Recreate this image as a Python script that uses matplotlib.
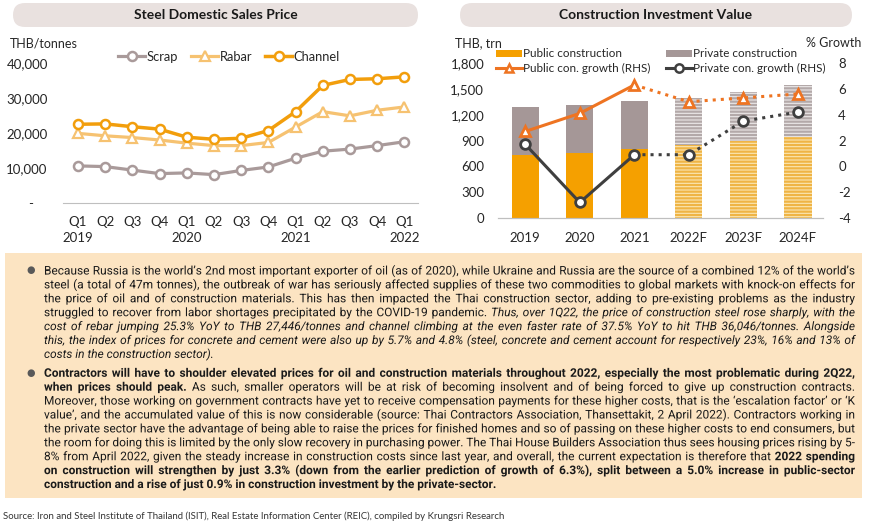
import matplotlib
matplotlib.use('Agg')
import matplotlib.pyplot as plt
import matplotlib.patheffects as pe
from matplotlib.patches import FancyBboxPatch, Rectangle, Patch
from matplotlib.lines import Line2D
from matplotlib.ticker import FixedLocator, FuncFormatter
from matplotlib.textpath import TextPath
from matplotlib.font_manager import FontProperties

# ---------------- data ----------------
quarters = ['Q1', 'Q2', 'Q3', 'Q4', 'Q1', 'Q2', 'Q3', 'Q4', 'Q1', 'Q2', 'Q3', 'Q4', 'Q1']
quarter_years = ['2019', '', '', '', '2020', '', '', '', '2021', '', '', '', '2022']
scrap = [10600, 10400, 9400, 8400, 8600, 8100, 9300, 10300, 12800, 14800, 15400, 16400, 17500]
rabar = [19900, 19200, 18700, 18000, 17100, 16400, 16400, 17300, 21700, 26100, 24900, 26500, 27446]
channel = [22500, 22600, 21800, 21100, 18800, 18200, 18500, 20700, 26100, 33600, 35300, 35500, 36046]
steel_yticks = [0, 10000, 20000, 30000, 40000]

inv_years = ['2019', '2020', '2021', '2022F', '2023F', '2024F']
public_con = [728, 755, 805, 844, 890, 937]
private_con = [561, 553, 550, 549, 570, 611]
public_growth = [2.7, 4.1, 6.3, 5.0, 5.3, 5.6]
private_growth = [1.7, -2.8, 0.9, 0.9, 3.5, 4.2]
is_forecast = [False, False, False, True, True, True]
inv_yticks = [0, 300, 600, 900, 1200, 1500, 1800]
growth_yticks = [-4, -2, 0, 2, 4, 6, 8]

title_left = 'Steel Domestic Sales Price'
title_right = 'Construction Investment Value'
source_text = ('Source: Iron and Steel Institute of Thailand (ISIT), Real Estate Information Center (REIC), '
               'compiled by Krungsri Research')

R, B, I, BI = 'r', 'b', 'i', 'bi'
para1 = [
    [(R, 'Because Russia is the world\u2019s 2nd most important exporter of oil (as of 2020), while Ukraine and Russia are the source of a combined 12% of the world\u2019s')],
    [(R, 'steel (a total of 47m tonnes), the outbreak of war has seriously affected supplies of these two commodities to global markets with knock-on effects for')],
    [(R, 'the price of oil and of construction materials. This has then impacted the Thai construction sector, adding to pre-existing problems as the industry')],
    [(R, 'struggled to recover from labor shortages precipitated by the COVID-19 pandemic.'), (I, 'Thus, over 1Q22, the price of construction steel rose sharply, with the')],
    [(I, 'cost of rebar jumping 25.3% YoY to THB 27,446/tonnes and channel climbing at the even faster rate of 37.5% YoY to hit THB 36,046/tonnes. Alongside')],
    [(I, 'this, the index of prices for concrete and cement were also up by 5.7% and 4.8% (steel, concrete and cement account for respectively 23%, 16% and 13% of')],
    [(I, 'costs in the construction sector).')],
]
para2 = [
    [(B, 'Contractors will have to shoulder elevated prices for oil and construction materials throughout 2022, especially the most problematic during 2Q22,')],
    [(B, 'when prices should peak.'), (R, 'As such, smaller operators will be at risk of becoming insolvent and of being forced to give up construction contracts.')],
    [(R, 'Moreover, those working on government contracts have yet to receive compensation payments for these higher costs, that is the \u2018escalation factor\u2019 or \u2018K')],
    [(R, 'value\u2019, and the accumulated value of this is now considerable (source: Thai Contractors Association, Thansettakit, 2 April 2022). Contractors working in')],
    [(R, 'the private sector have the advantage of being able to raise the prices for finished homes and so of passing on these higher costs to end consumers, but')],
    [(R, 'the room for doing this is limited by the only slow recovery in purchasing power. The Thai House Builders Association thus sees housing prices rising by 5-')],
    [(R, '8% from April 2022, given the steady increase in construction costs since last year, and overall, the current expectation is therefore that'), (B, '2022 spending')],
    [(B, 'on construction will strengthen by just 3.3% (down from the earlier prediction of growth of 6.3%), split between a 5.0% increase in public-sector')],
    [(B, 'construction and a rise of just 0.9% in construction investment by the private-sector.')],
]

# ---------------- style ----------------
plt.rcParams['font.family'] = ['Lato', 'DejaVu Sans']
plt.rcParams['hatch.linewidth'] = 1.6
PARA_FONT = ['Roboto', 'DejaVu Sans']
W, H = 870, 527
fig = plt.figure(figsize=(W / 100, H / 100), dpi=100)
fig.patch.set_facecolor('white')

TXT = '#262626'
C_CH = '#F29E0C'
C_RB = '#F6C271'
C_SC = '#A99A9A'
C_PUB = '#F5A000'
C_PRV = '#A59797'
C_PUBG = '#EE7422'
C_PRVG = '#3F3F3F'
AXIS = '#BFBFBF'


def fx(px):
    return px / W


def fy(py):
    return 1 - py / H


def pill(x0, x1, y0, y1, text):
    p = FancyBboxPatch((x0 / 100, (H - y1) / 100), (x1 - x0) / 100, (y1 - y0) / 100,
                       boxstyle='round,pad=0,rounding_size=0.12', transform=fig.dpi_scale_trans,
                       facecolor='#E9E1DF', edgecolor='none', zorder=0)
    fig.patches.append(p)
    fig.text(fx((x0 + x1) / 2), fy((y0 + y1) / 2), text, ha='center', va='center',
             fontsize=10, fontweight='bold', color='#1a1a1a')


pill(13, 418, 3, 27, title_left)
pill(460, 852, 3, 27, title_right)

# ---------------- left chart ----------------
ax1 = fig.add_axes([fx(63), fy(203), fx(418) - fx(63), fy(63) - fy(203)])
xs = list(range(len(quarters)))
ax1.plot(xs, scrap, color=C_SC, lw=2.3, marker='o', ms=6.5, mfc='white', mew=1.8, label='Scrap')
ax1.plot(xs, rabar, color=C_RB, lw=2.3, marker='^', ms=7, mfc='white', mew=1.6, label='Rabar')
ax1.plot(xs, channel, color=C_CH, lw=2.5, marker='o', ms=6.5, mfc='white', mew=1.8, label='Channel')
ax1.set_xlim(-0.55, 12.5)
ax1.set_ylim(0, 40000)
ax1.yaxis.set_major_locator(FixedLocator(steel_yticks))
ax1.yaxis.set_major_formatter(FuncFormatter(lambda v, p: '-    ' if v == 0 else f'{int(v):,}'))
ax1.set_xticks(xs)
ax1.set_xticklabels([q if not y else f'{q}\n{y}' for q, y in zip(quarters, quarter_years)])
for lab in ax1.get_xticklabels():
    lab.set_linespacing(1.45)
for s in ['top', 'right', 'left']:
    ax1.spines[s].set_visible(False)
ax1.spines['bottom'].set_color(AXIS)
ax1.tick_params(axis='both', length=0, labelsize=9.5, colors=TXT)
ax1.tick_params(axis='y', pad=11)
ax1.tick_params(axis='x', pad=9)
ax1.patch.set_alpha(0)
fig.text(fx(10), fy(43), 'THB/tonnes', fontsize=9, color=TXT, ha='left', va='center')
ax1.legend(loc='center', bbox_to_anchor=(fx(229), fy(57)), bbox_transform=fig.transFigure,
           ncol=3, frameon=False, fontsize=9.3, handlelength=2.1, handletextpad=0.12,
           columnspacing=1.0, labelcolor=TXT)

# ---------------- right chart ----------------
ax2 = fig.add_axes([fx(498), fy(218), fx(823) - fx(498), fy(63) - fy(218)])
ax2r = ax2.twinx()
ix = list(range(len(inv_years)))
bw = 0.5
for i in ix:
    if is_forecast[i]:
        ax2.bar(i, public_con[i], bw, color='#FBE6B4', edgecolor='#EFB445', hatch='-----', lw=0)
        ax2.bar(i, private_con[i], bw, bottom=public_con[i], color='#ECE8E8', edgecolor='#B3A9A9',
                hatch='-----', lw=0)
    else:
        ax2.bar(i, public_con[i], bw, color=C_PUB, lw=0)
        ax2.bar(i, private_con[i], bw, bottom=public_con[i], color=C_PRV, lw=0)
ax2.set_xlim(-0.5, 5.46)
ax2.set_ylim(0, 1800)
ax2.yaxis.set_major_locator(FixedLocator(inv_yticks))
ax2.yaxis.set_major_formatter(FuncFormatter(lambda v, p: f'{int(v):,}'))
ax2.set_xticks(ix)
ax2.set_xticklabels(inv_years)
ax2r.set_ylim(-4, 8)
ax2r.yaxis.set_major_locator(FixedLocator(growth_yticks))
ax2r.yaxis.set_major_formatter(FuncFormatter(lambda v, p: f'{int(v)}'))

na = sum(1 for f in is_forecast if not f)
ax2r.plot(ix[:na], public_growth[:na], color=C_PUBG, lw=2.2, zorder=3)
ax2r.plot(ix[na - 1:], public_growth[na - 1:], color=C_PUBG, lw=2.2, ls=':', zorder=3)
ax2r.plot(ix, public_growth, ls='none', marker='^', ms=7, mfc='white', mec=C_PUBG, mew=2, zorder=4)
ax2r.plot(ix[:na], private_growth[:na], color=C_PRVG, lw=2.2, zorder=3)
ax2r.plot(ix[na - 1:], private_growth[na - 1:], color=C_PRVG, lw=2.2, ls=':', zorder=3)
ax2r.plot(ix, private_growth, ls='none', marker='o', ms=7, mfc='white', mec=C_PRVG, mew=2, zorder=4)

for a in (ax2, ax2r):
    for s in ['top', 'right', 'left']:
        a.spines[s].set_visible(False)
    a.spines['bottom'].set_color(AXIS)
    a.tick_params(axis='both', length=0, labelsize=9.5, colors=TXT)
ax2.tick_params(axis='y', pad=10)
ax2r.tick_params(axis='y', pad=11)
ax2.tick_params(axis='x', pad=10)
fig.text(fx(455), fy(43), 'THB, trn', fontsize=9, color=TXT, ha='left', va='center')
fig.text(fx(861), fy(43), '% Growth', fontsize=9, color=TXT, ha='right', va='center')

handles = [Patch(facecolor=C_PUB, edgecolor='none'),
           Line2D([], [], color=C_PUBG, lw=2.2, marker='^', ms=6, mfc='white', mec=C_PUBG, mew=1.8),
           Patch(facecolor=C_PRV, edgecolor='none'),
           Line2D([], [], color=C_PRVG, lw=2.2, marker='o', ms=6, mfc='white', mec=C_PRVG, mew=1.8)]
labels = ['Public construction', 'Public con. growth (RHS)', 'Private construction', 'Private con. growth (RHS)']
ax2.legend(handles, labels, loc='center', bbox_to_anchor=(fx(661), fy(61)), bbox_transform=fig.transFigure,
           ncol=2, frameon=False, fontsize=8.4, handlelength=2.2, handleheight=0.55, handletextpad=0.15,
           columnspacing=1.3, labelspacing=0.3, labelcolor=TXT)

# ---------------- text box ----------------
fig.patches.append(Rectangle((fx(5), fy(498)), fx(862) - fx(5), fy(253) - fy(498),
                             transform=fig.transFigure, facecolor='#FCE4C2', edgecolor='none', zorder=0))

STY = {R: ('normal', 'normal'), B: ('bold', 'normal'), I: ('normal', 'italic'), BI: ('bold', 'italic')}
PROPS = {k: FontProperties(family=PARA_FONT, weight=v[0], style=v[1]) for k, v in STY.items()}
PX_PER_PT = 100 / 72
# words are drawn as real text, rendered through a path effect (vector, no pixel snapping)
VECTOR_TEXT = [pe.Normal()]


def make_words(line):
    words = []
    for sty, seg in line:
        for w in seg.split():
            words.append((sty, w))
    return words


def ink_w(s, sty, fs):
    return TextPath((0, 0), s, size=fs, prop=PROPS[sty]).get_extents().width * PX_PER_PT


def advance(w, sty, fs):
    # pen advance of a word: ink('x'+w+'x') - ink('xx')
    return ink_w('x' + w + 'x', sty, fs) - ink_w('xx', sty, fs)


def space_adv(fs):
    return advance(' ', R, fs)


X0, X1 = 44, 855
target = X1 - X0
all_lines = para1 + para2
fs0 = 9.0
nat = []
for ln in all_lines:
    ws = make_words(ln)
    nat.append(sum(advance(w, s, fs0) for s, w in ws) + space_adv(fs0) * 0.95 * (len(ws) - 1))
FS = min(9.0, fs0 * target / max(nat) * 0.998)
SPW = space_adv(FS)


def draw_line(line, ybase, justify):
    ws = make_words(line)
    advs = [advance(w, s, FS) for s, w in ws]
    if justify and len(ws) > 1:
        gap = (target - sum(advs)) / (len(ws) - 1)
    else:
        gap = SPW
    x = X0
    for (s, w), ad in zip(ws, advs):
        fig.text(fx(x), fy(ybase), w, fontsize=FS, fontweight=STY[s][0], fontstyle=STY[s][1],
                 color='#1a1a1a', ha='left', va='baseline', family=PARA_FONT,
                 path_effects=VECTOR_TEXT)
        x += ad + gap


LS = 13.9
y = 270.5
for pi, para in enumerate([para1, para2]):
    fig.text(fx(31), fy(y), '\u25CF', fontsize=7, color='#595959', ha='center', va='center',
             family='DejaVu Sans')
    for li, ln in enumerate(para):
        draw_line(ln, y + 4, justify=(li < len(para) - 1))
        y += LS
    y += 5

renderer = fig.canvas.get_renderer()
st = fig.text(fx(3), fy(516.5), source_text, fontsize=6.5, color='#333333', ha='left', va='center')
sw = st.get_window_extent(renderer).width
st.set_fontsize(6.5 * 500 / sw)

fig.savefig('out.png', dpi=100, facecolor='white')
